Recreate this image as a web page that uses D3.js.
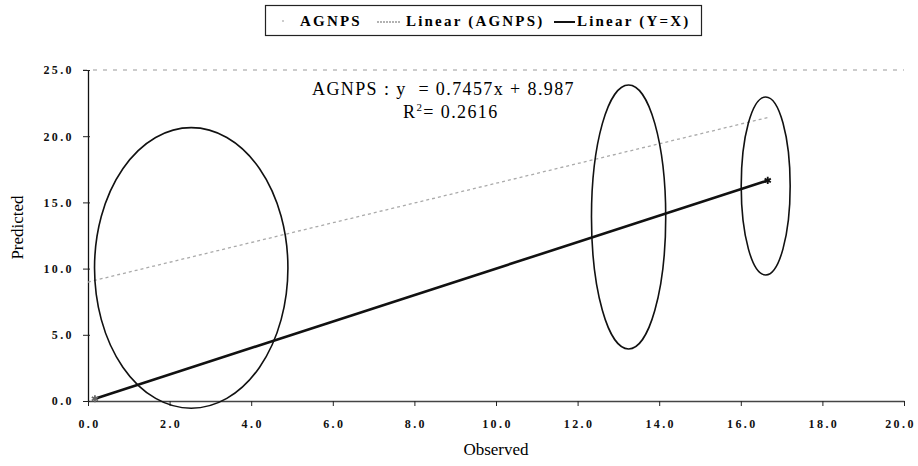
<!DOCTYPE html>
<html>
  <head>
    <meta charset="utf-8">
    <title>AGNPS Observed vs Predicted</title>
    <script type="text/javascript" src="https://cdn.jsdelivr.net/npm/d3@7"></script>
    <style>
      body { margin: 0; background: #fff; }
      .tickLabel { font-family: "Liberation Serif", serif; font-weight: bold; font-size: 12px; letter-spacing: 2.4px; }
    </style>
  </head>
  <body>
    <script type="text/javascript">
     // data
     let xTicks = [0, 2, 4, 6, 8, 10, 12, 14, 16, 18, 20];
     let yTicks = [0, 5, 10, 15, 20, 25];
     let yxPoints = [[0.17, 0.17], [16.66, 16.66]];      // Y=X series (star markers)
     let trendSlope = 0.7457;
     let trendIntercept = 8.987;
     let trendRange = [0, 16.66];
     // hand drawn ellipses, in data units: [cx, cy, rx, ry]
     let ellipses = [
       [2.53, 10.05, 2.37, 10.6],
       [13.25, 13.9, 0.91, 9.97],
       [16.61, 16.24, 0.6, 6.72]
     ];

     let w = 918;
     let h = 466;
     let margin = {top: 70, right: 14, bottom: 65, left: 88};

     let svg = d3.select("body").append("svg")
		 .attr("width", w)
		 .attr("height", h)
		 .style("display", "block");

     let xScale = d3.scaleLinear()
		    .domain([0, 20])
		    .range([margin.left, w - margin.right]);
     let yScale = d3.scaleLinear()
		    .domain([0, 25])
		    .range([h - margin.bottom, margin.top]);

     let fmt = d3.format(".1f");

     // top border, dashed
     svg.append("line")
	.attr("x1", xScale(0) - 5).attr("x2", xScale(20))
	.attr("y1", yScale(25)).attr("y2", yScale(25))
	.attr("stroke", "#999")
	.attr("stroke-dasharray", "4,6");

     // axes
     let xAxis = d3.axisBottom(xScale)
		   .tickValues(xTicks)
		   .tickSize(5)
		   .tickSizeOuter(0)
		   .tickPadding(13)
		   .tickFormat(fmt);
     let gx = svg.append("g")
		 .attr("transform", "translate(0," + yScale(0) + ")")
		 .call(xAxis);
     gx.select(".domain").attr("stroke", "#444").attr("stroke-width", 1.3);
     gx.selectAll(".tick line").attr("stroke", "#222");
     gx.selectAll(".tick text")
       .attr("class", "tickLabel")
       .attr("fill", "#111")
       .attr("dx", (d, i) => {return i == xTicks.length - 1 ? -4 : 1;});

     let yAxis = d3.axisLeft(yScale)
		   .tickValues(yTicks)
		   .tickSize(5)
		   .tickSizeOuter(0)
		   .tickPadding(9)
		   .tickFormat(fmt);
     let gy = svg.append("g")
		 .attr("transform", "translate(" + xScale(0) + ",0)")
		 .call(yAxis);
     gy.select(".domain").attr("stroke", "#111").attr("stroke-width", 1.3);
     gy.selectAll(".tick line").attr("stroke", "#222").attr("x2", 2).attr("x1", -5);
     gy.selectAll(".tick text").attr("class", "tickLabel").attr("fill", "#111");

     // axis titles
     svg.append("text")
	.attr("x", (xScale(0) + xScale(20)) / 2)
	.attr("y", 455)
	.attr("text-anchor", "middle")
	.style("font-family", "Liberation Serif, serif")
	.style("font-size", "17px")
	.text("Observed");
     svg.append("text")
	.attr("transform", "translate(23," + ((yScale(0) + yScale(25)) / 2 - 8) + ") rotate(-90)")
	.attr("text-anchor", "middle")
	.style("font-family", "Liberation Serif, serif")
	.style("font-size", "17px")
	.text("Predicted");

     // trend line of AGNPS
     svg.append("line")
	.attr("x1", xScale(trendRange[0]))
	.attr("y1", yScale(trendSlope * trendRange[0] + trendIntercept))
	.attr("x2", xScale(trendRange[1]))
	.attr("y2", yScale(trendSlope * trendRange[1] + trendIntercept))
	.attr("stroke", "#aaa")
	.attr("stroke-width", 1.3)
	.attr("stroke-dasharray", "3,3");

     // Y=X line
     let line = d3.line()
		  .x((d) => {return xScale(d[0]);})
		  .y((d) => {return yScale(d[1]);});
     svg.append("path")
	.datum(yxPoints)
	.attr("d", line)
	.attr("fill", "none")
	.attr("stroke", "#111")
	.attr("stroke-width", 2.6);

     svg.selectAll(".star")
	.data(yxPoints)
	.enter()
	.append("path")
	.attr("class", "star")
	.attr("transform", (d) => {return "translate(" + xScale(d[0]) + "," + yScale(d[1]) + ")";})
	.attr("d", d3.symbol(d3.symbolAsterisk, 36))
	.attr("fill", "none")
	.attr("stroke", (d, i) => {return i == 0 ? "#666" : "#111";})
	.attr("stroke-width", 1.8);

     // ellipses
     svg.selectAll(".ring")
	.data(ellipses)
	.enter()
	.append("ellipse")
	.attr("class", "ring")
	.attr("cx", (d) => {return xScale(d[0]);})
	.attr("cy", (d) => {return yScale(d[1]);})
	.attr("rx", (d) => {return xScale(d[2]) - xScale(0);})
	.attr("ry", (d) => {return yScale(0) - yScale(d[3]);})
	.attr("fill", "none")
	.attr("stroke", "#111")
	.attr("stroke-width", 1.6);

     // equation
     let eqFont = (sel) => sel.style("font-family", "Liberation Serif, serif")
			      .style("font-size", "18px")
			      .style("letter-spacing", "1.4px");
     svg.append("text")
	.attr("x", 312).attr("y", 95)
	.attr("xml:space", "preserve")
	.call(eqFont)
	.text("AGNPS : y  = " + trendSlope + "x + " + trendIntercept);
     let r2 = svg.append("text")
		 .attr("x", 403).attr("y", 118)
		 .call(eqFont);
     r2.append("tspan").text("R");
     r2.append("tspan").attr("dy", -7).style("font-size", "11px").text("2");
     r2.append("tspan").attr("dy", 7).text("= 0.2616");

     // legend
     let lg = svg.append("g");
     lg.append("rect")
       .attr("x", 265.5).attr("y", 5.5)
       .attr("width", 436).attr("height", 30)
       .attr("fill", "#fff")
       .attr("stroke", "#222")
       .attr("stroke-width", 1.2);
     let legendFont = (sel) => sel.style("font-family", "Liberation Serif, serif")
				  .style("font-weight", "bold")
				  .style("font-size", "15px")
				  .style("letter-spacing", "2.2px");
     lg.append("circle").attr("cx", 283).attr("cy", 21).attr("r", 1).attr("fill", "#bbb");
     lg.append("text").attr("x", 300).attr("y", 26).call(legendFont).text("AGNPS");
     lg.append("line").attr("x1", 377).attr("x2", 401).attr("y1", 22).attr("y2", 22)
       .attr("stroke", "#999").attr("stroke-width", 1.3).attr("stroke-dasharray", "2,1");
     lg.append("text").attr("x", 406).attr("y", 26).call(legendFont).text("Linear (AGNPS)");
     lg.append("line").attr("x1", 554).attr("x2", 575).attr("y1", 22).attr("y2", 22)
       .attr("stroke", "#111").attr("stroke-width", 2);
     lg.append("text").attr("x", 577).attr("y", 26).call(legendFont).text("Linear (Y=X)");
    </script>
  </body>
</html>
